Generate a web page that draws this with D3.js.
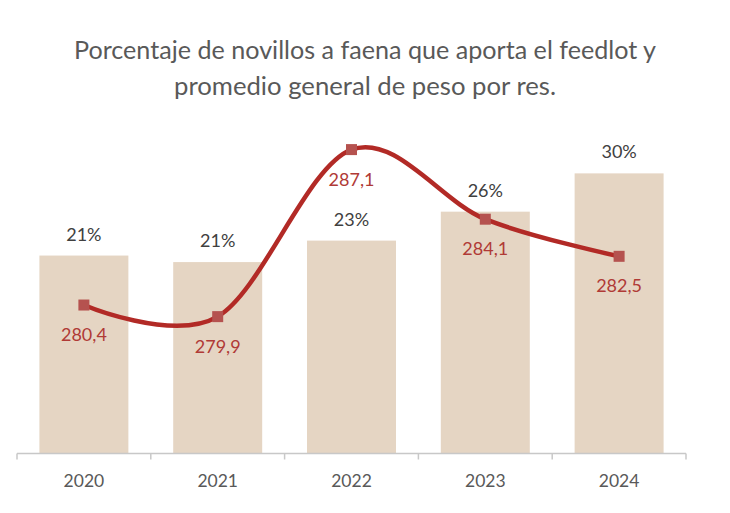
<!DOCTYPE html>
<html>
<head>
<meta charset="utf-8">
<script src="https://cdn.jsdelivr.net/npm/d3@7"></script>
<style>
  html, body { margin: 0; padding: 0; background: #ffffff; }
  svg { display: block; }
  text { font-family: Lato, "Open Sans", "Noto Sans", sans-serif; }
</style>
</head>
<body>
<svg id="chart" width="730" height="513"></svg>
<script>
// ---- data ----
const years = ["2020", "2021", "2022", "2023", "2024"];
const sharePct = [21.2, 20.5, 22.8, 25.9, 30.0];          // % novillos from feedlot (bars)
const shareLabels = ["21%", "21%", "23%", "26%", "30%"];
const weightKg = [280.4, 279.9, 287.1, 284.1, 282.5];      // average weight per head (line)
const weightLabels = ["280,4", "279,9", "287,1", "284,1", "282,5"];
const titleLines = [
  "Porcentaje de novillos a faena que aporta el feedlot y",
  "promedio general de peso por res."
];
const titleWidths = [582, 382];

// ---- layout ----
const svg = d3.select("#chart");
const plot = { left: 17, right: 686, top: 80, bottom: 453.5 };

const x = d3.scaleBand()
  .domain(years)
  .range([plot.left, plot.right])
  .paddingInner(0.335)
  .paddingOuter(0.1675);

const yBar = d3.scaleLinear().domain([0, 40]).range([plot.bottom, plot.top]);
const yLine = d3.scaleLinear().domain([274.0, 290.1]).range([plot.bottom, plot.top]);

// ---- title ----
svg.append("g")
  .selectAll("text")
  .data(titleLines)
  .join("text")
  .attr("x", 365)
  .attr("y", (d, i) => 59 + i * 36)
  .attr("text-anchor", "middle")
  .attr("font-size", 25)
  .attr("textLength", (d, i) => titleWidths[i])
  .attr("lengthAdjust", "spacingAndGlyphs")
  .attr("fill", "#595959")
  .text(d => d);

// ---- bars ----
const barData = years.map((y, i) => ({ year: y, v: sharePct[i], label: shareLabels[i] }));
svg.append("g")
  .selectAll("rect")
  .data(barData)
  .join("rect")
  .attr("x", d => x(d.year))
  .attr("y", d => yBar(d.v))
  .attr("width", x.bandwidth())
  .attr("height", d => yBar(0) - yBar(d.v))
  .attr("fill", "#e5d5c3");

// ---- x axis ----
const axis = svg.append("g").attr("transform", `translate(0,${plot.bottom})`);
axis.append("line")
  .attr("x1", plot.left).attr("x2", plot.right)
  .attr("y1", 0).attr("y2", 0)
  .attr("stroke", "#c8c8c8").attr("stroke-width", 1.5);
const step = x.step();
const tickPos = d3.range(years.length + 1).map(i => plot.left + i * step);
axis.selectAll("line.tick")
  .data(tickPos)
  .join("line")
  .attr("class", "tick")
  .attr("x1", d => d).attr("x2", d => d)
  .attr("y1", 0).attr("y2", 6)
  .attr("stroke", "#c8c8c8").attr("stroke-width", 1.5);
axis.selectAll("text")
  .data(years)
  .join("text")
  .attr("x", d => x(d) + x.bandwidth() / 2)
  .attr("y", 33)
  .attr("text-anchor", "middle")
  .attr("font-size", 17.5)
  .attr("fill", "#595959")
  .text(d => d);

// ---- bar labels ----
svg.append("g")
  .selectAll("text")
  .data(barData)
  .join("text")
  .attr("x", d => x(d.year) + x.bandwidth() / 2)
  .attr("y", d => yBar(d.v) - 15)
  .attr("text-anchor", "middle")
  .attr("font-size", 18)
  .attr("fill", "#404040")
  .text(d => d.label);

// ---- line ----
const lineData = years.map((y, i) => ({ year: y, v: weightKg[i], label: weightLabels[i] }));
const cx = d => x(d.year) + x.bandwidth() / 2;
const line = d3.line()
  .x(cx)
  .y(d => yLine(d.v))
  .curve(d3.curveCardinal.tension(0));
svg.append("path")
  .datum(lineData)
  .attr("d", line)
  .attr("fill", "none")
  .attr("stroke", "#b22a26")
  .attr("stroke-width", 4.5)
  .attr("stroke-linecap", "round");

svg.append("g")
  .selectAll("rect")
  .data(lineData)
  .join("rect")
  .attr("x", d => cx(d) - 5.5)
  .attr("y", d => yLine(d.v) - 5.5)
  .attr("width", 11)
  .attr("height", 11)
  .attr("fill", "#b5524f");

svg.append("g")
  .selectAll("text")
  .data(lineData)
  .join("text")
  .attr("x", cx)
  .attr("y", d => yLine(d.v) + 36)
  .attr("text-anchor", "middle")
  .attr("font-size", 18)
  .attr("fill", "#b03a36")
  .text(d => d.label);
</script>
</body>
</html>
